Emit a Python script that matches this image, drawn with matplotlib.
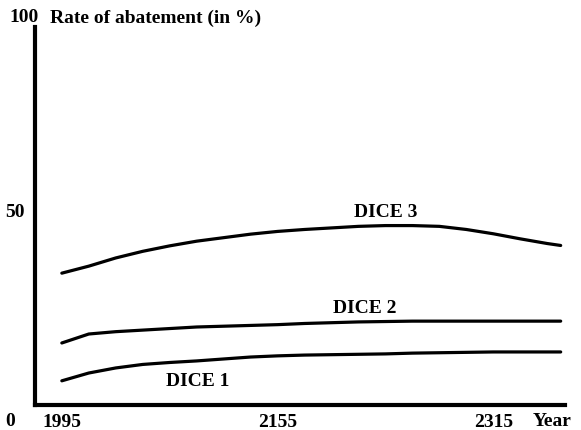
import matplotlib
matplotlib.use("Agg")
from matplotlib import pyplot as plt

years = [1995, 2015, 2035, 2055, 2075, 2095, 2115, 2135, 2155, 2175,
         2195, 2215, 2235, 2255, 2275, 2295, 2315, 2335, 2355, 2365]
dice1 = [6.2, 8.2, 9.5, 10.4, 10.9, 11.3, 11.8, 12.3, 12.6, 12.8,
         12.9, 13.0, 13.1, 13.3, 13.4, 13.5, 13.6, 13.6, 13.6, 13.6]
dice2 = [15.9, 18.2, 18.8, 19.2, 19.6, 20.0, 20.2, 20.4, 20.6, 20.9,
         21.1, 21.3, 21.4, 21.5, 21.5, 21.5, 21.5, 21.5, 21.5, 21.5]
dice3 = [33.8, 35.6, 37.7, 39.4, 40.8, 42.0, 42.9, 43.8, 44.5, 45.0,
         45.4, 45.8, 46.0, 46.0, 45.8, 45.0, 43.9, 42.6, 41.4, 40.9]

x_ticks = [1995, 2155, 2315]
y_ticks = [50]

plt.rcParams["font.family"] = ["Liberation Serif", "DejaVu Serif"]
plt.rcParams["font.weight"] = "bold"

fig = plt.figure(figsize=(5.81, 4.31), dpi=100)
ax = fig.add_axes([0.060, 0.058, 0.912, 0.905])

for series in (dice1, dice2, dice3):
    ax.plot(years, series, color="black", lw=2.3, solid_capstyle="round")

# curve labels
ax.text(2235, 49.7, "DICE 3", ha="center", va="center", fontsize=14)
ax.text(2220, 24.9, "DICE 2", ha="center", va="center", fontsize=14)
ax.text(2096, 6.4, "DICE 1", ha="center", va="center", fontsize=14)

ax.set_xlim(1975, 2368)
ax.set_ylim(0, 100)
ax.set_xticks(x_ticks)
ax.set_yticks(y_ticks)
ax.tick_params(length=0, labelsize=14)
ax.tick_params(axis="y", pad=7)
ax.tick_params(axis="x", pad=6)

for side in ("top", "right"):
    ax.spines[side].set_visible(False)
ax.spines["left"].set_linewidth(3)
ax.spines["bottom"].set_linewidth(3)
ax.spines["left"].set_bounds(0, 97)

ax.text(-0.021, 99.5, "100", transform=ax.get_yaxis_transform(),
        ha="center", va="center", fontsize=14, clip_on=False)
ax.text(1986, 99.5, "Rate of abatement (in %)", ha="left", va="center",
        fontsize=14, clip_on=False)
ax.text(-0.047, -0.041, "0", transform=ax.transAxes, ha="center",
        va="center", fontsize=14)
ax.text(0.977, -0.041, "Year", transform=ax.transAxes, ha="center",
        va="center", fontsize=14)

fig.savefig("out.png", dpi=100)
